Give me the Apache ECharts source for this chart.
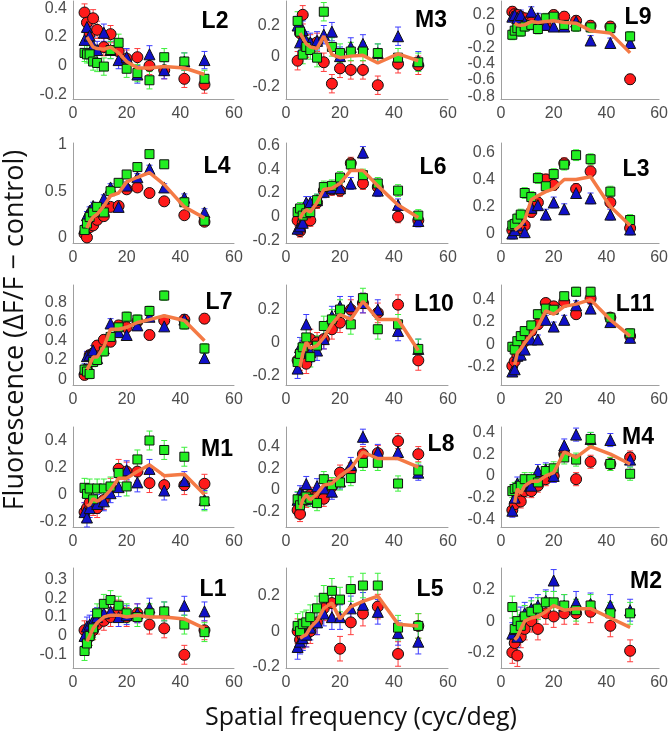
<!DOCTYPE html>
<html>
<head>
<meta charset="utf-8">
<script src="https://cdn.jsdelivr.net/npm/echarts@6/dist/echarts.min.js"></script>
<style>
html, body { margin: 0; padding: 0; background: #fff; }
#chart { width: 671px; height: 739px; }
</style>
</head>
<body>
<div id="chart"></div>
<script>
// spatial frequencies (cyc/deg), shared by every panel
const freq = [4.3, 5.2, 6.2, 7.5, 9, 11.5, 14, 17, 20, 24, 28.5, 34, 41.5, 49];

const panelNames = ['L2', 'M3', 'L9', 'L4', 'L6', 'L3', 'L7', 'L10', 'L11', 'M1', 'L8', 'M4', 'L1', 'L5', 'M2'];

// y limits and tick labels of each panel
const yLimits = [
  [-0.23, 0.45], [-0.28, 0.36], [-0.83, 0.36],
  [-0.06, 1.02], [-0.22, 0.62], [-0.07, 0.67],
  [-0.06, 0.98], [-0.26, 0.35], [-0.36, 0.53],
  [-0.24, 0.5], [-0.34, 0.58], [-0.47, 0.45],
  [-0.17, 0.36], [-0.21, 0.36], [-0.3, 0.34]
];
const yTicks = [
  [-0.2, 0, 0.2, 0.4], [-0.2, 0, 0.2], [-0.8, -0.6, -0.4, -0.2, 0, 0.2],
  [0, 0.5, 1], [-0.2, 0, 0.2, 0.4, 0.6], [0, 0.2, 0.4, 0.6],
  [0, 0.2, 0.4, 0.6, 0.8], [-0.2, 0, 0.2], [-0.2, 0, 0.2, 0.4],
  [-0.2, 0, 0.2, 0.4], [-0.2, 0, 0.2, 0.4], [-0.4, -0.2, 0, 0.2, 0.4],
  [-0.1, 0, 0.1, 0.2, 0.3], [-0.2, 0, 0.2], [-0.2, 0, 0.2]
];

// half length of the error bars, per panel
const errSize = [0.06, 0.06, 0.06, 0.04, 0.05, 0.04, 0.05, 0.06, 0.04, 0.07, 0.07, 0.06, 0.05, 0.07, 0.07];

// red circles
const redVals = [
  [0.37, 0.3, 0.22, 0.33, 0.25, 0.13, 0.22, 0.1, 0.05, 0.06, 0.0, -0.03, -0.09, -0.13],        // L2
  [-0.03, 0.15, 0.27, 0.05, 0.08, 0.09, -0.04, -0.18, -0.08, -0.09, -0.09, -0.19, -0.05, -0.06], // M3
  [0.23, 0.2, 0.19, 0.17, 0.15, 0.1, 0.08, 0.07, 0.19, 0.17, 0.12, 0.06, 0.05, -0.59],          // L9
  [0.04, 0.0, 0.11, 0.13, 0.19, 0.23, 0.33, 0.34, 0.52, 0.54, 0.48, 0.39, 0.24, 0.17],          // L4
  [-0.03, -0.12, -0.05, -0.03, -0.03, 0.12, 0.22, 0.23, 0.22, 0.45, 0.28, 0.25, 0.0, -0.03],    // L6
  [0.025, 0.05, 0.05, 0.04, 0.06, 0.16, 0.23, 0.4, 0.36, 0.52, 0.33, 0.46, 0.23, 0.04],         // L3
  [0.045, 0.1, 0.25, 0.27, 0.35, 0.41, 0.39, 0.56, 0.54, 0.6, 0.46, 0.61, 0.62, 0.63],          // L7
  [-0.11, -0.11, -0.05, -0.13, 0.02, 0.0, 0.02, 0.08, 0.12, 0.2, 0.24, 0.18, 0.23, -0.11],      // L10
  [-0.19, -0.15, -0.09, -0.03, 0.03, 0.12, 0.18, 0.37, 0.34, 0.38, 0.27, 0.41, 0.24, 0.075],    // L11
  [-0.13, -0.1, -0.06, -0.085, -0.1, -0.04, 0.05, 0.19, 0.17, 0.17, 0.085, 0.07, 0.07, 0.08],   // M1
  [-0.185, -0.22, -0.08, -0.09, -0.045, -0.055, -0.08, 0.03, 0.16, 0.18, 0.33, 0.34, 0.45, 0.33], // L8
  [-0.315, -0.26, -0.18, -0.235, -0.14, -0.14, -0.09, -0.03, 0.0, 0.2, -0.03, 0.13, 0.11, 0.17], // M4
  [0.03, -0.02, 0.0, 0.03, 0.06, 0.08, 0.1, 0.14, 0.1, 0.12, 0.06, 0.04, -0.1, 0.03],           // L1
  [0.0, -0.05, -0.03, -0.02, 0.0, 0.05, 0.13, 0.16, -0.1, 0.05, 0.1, 0.14, -0.13, 0.03],        // L5
  [-0.2, -0.14, -0.22, -0.1, -0.05, 0.0, -0.05, 0.05, 0.03, 0.05, 0.05, 0.06, -0.03, -0.19]     // M2
];

// blue triangles
const blueVals = [
  [0.18, 0.27, 0.21, 0.14, 0.11, 0.23, 0.11, 0.04, 0.06, -0.06, 0.08, -0.03, 0.03, 0.04],
  [0.2, 0.09, 0.17, 0.1, 0.09, 0.1, 0.14, 0.16, 0.0, 0.06, 0.08, 0.02, 0.13, -0.03],
  [0.17, 0.19, 0.15, 0.19, 0.1, 0.23, 0.15, 0.07, 0.05, 0.05, 0.11, -0.12, -0.15, -0.15],
  [0.1, 0.24, 0.29, 0.34, 0.31, 0.42, 0.54, 0.33, 0.56, 0.65, 0.74, 0.54, 0.43, 0.27],
  [-0.1, -0.08, -0.05, 0.12, 0.12, 0.14, 0.21, 0.24, 0.24, 0.28, 0.54, 0.22, 0.1, -0.035],
  [0.0, 0.025, 0.06, 0.1, 0.01, 0.19, 0.21, 0.14, 0.23, 0.18, 0.3, 0.26, 0.14, 0.03],
  [0.11, 0.24, 0.25, 0.3, 0.22, 0.32, 0.58, 0.49, 0.46, 0.56, 0.65, 0.55, 0.62, 0.22],
  [-0.16, -0.03, -0.05, 0.11, -0.06, -0.05, 0.02, 0.16, 0.22, 0.22, 0.24, 0.2, 0.07, -0.04],
  [-0.24, -0.22, -0.1, -0.09, -0.045, 0.045, 0.045, 0.22, 0.16, 0.22, 0.35, 0.32, 0.2, 0.06],
  [-0.13, -0.17, -0.1, -0.045, -0.07, -0.05, 0.01, 0.055, 0.18, 0.09, 0.19, 0.03, 0.1, -0.04],
  [-0.09, -0.03, -0.045, 0.055, -0.08, 0.035, 0.015, -0.015, 0.08, 0.23, 0.49, 0.35, 0.35, 0.16],
  [-0.32, -0.2, -0.07, -0.09, -0.06, -0.09, 0.045, 0.06, 0.0, 0.28, 0.38, 0.34, 0.33, 0.15],
  [0.0, 0.05, 0.06, 0.08, 0.1, 0.12, 0.13, 0.1, 0.11, 0.12, 0.15, 0.13, 0.16, 0.13],
  [-0.09, -0.06, -0.04, -0.02, 0.02, 0.05, 0.1, 0.08, 0.08, 0.13, 0.15, 0.11, -0.01, -0.06],
  [-0.08, -0.05, -0.1, 0.02, 0.05, 0.08, 0.1, 0.13, 0.26, 0.1, 0.12, 0.11, 0.1, 0.07]
];

// green squares
const greenVals = [
  [0.09, 0.08, 0.08, 0.03, 0.02, -0.005, 0.11, 0.16, -0.02, -0.05, -0.1, 0.06, 0.03, -0.09],
  [0.23, 0.16, 0.01, 0.06, 0.04, -0.01, 0.29, 0.06, 0.02, 0.03, 0.03, 0.02, -0.01, -0.04],
  [-0.05, 0.0, 0.03, -0.01, 0.05, 0.07, 0.02, 0.15, 0.17, 0.07, 0.05, 0.04, 0.03, -0.07],
  [0.08, 0.15, 0.22, 0.27, 0.33, 0.27, 0.5, 0.59, 0.68, 0.76, 0.9, 0.79, 0.38, 0.18],
  [0.04, 0.07, 0.01, 0.03, 0.04, 0.14, 0.25, 0.26, 0.33, 0.44, 0.35, 0.28, 0.22, 0.01],
  [0.06, 0.07, 0.11, 0.14, 0.3, 0.27, 0.41, 0.35, 0.44, 0.51, 0.58, 0.55, 0.31, 0.1],
  [0.1, 0.08, 0.055, 0.18, 0.2, 0.29, 0.44, 0.54, 0.65, 0.62, 0.71, 0.87, 0.57, 0.32],
  [-0.12, -0.07, -0.03, 0.03, -0.09, -0.02, 0.1, 0.14, 0.2, 0.11, 0.27, 0.08, 0.11, -0.04],
  [-0.02, -0.045, 0.03, 0.075, 0.12, 0.17, 0.27, 0.32, 0.31, 0.43, 0.47, 0.47, 0.24, 0.1],
  [0.05, 0.005, 0.045, -0.035, 0.045, 0.045, 0.06, 0.16, 0.06, 0.26, 0.4, 0.33, 0.28, -0.05],
  [-0.085, -0.14, -0.09, -0.06, -0.08, -0.12, 0.1, 0.045, 0.07, 0.11, 0.25, 0.25, 0.06, 0.18],
  [-0.14, -0.12, -0.11, -0.09, -0.03, -0.03, -0.06, 0.045, 0.07, 0.17, 0.15, 0.34, 0.11, 0.02],
  [-0.08, -0.04, 0.0, 0.04, 0.12, 0.17, 0.19, 0.16, 0.12, 0.1, 0.12, 0.13, 0.06, 0.02],
  [0.03, 0.0, 0.04, 0.05, 0.08, 0.13, 0.19, 0.23, 0.18, 0.24, 0.26, 0.26, 0.02, 0.03],
  [0.09, -0.05, 0.0, -0.03, 0.03, 0.06, 0.08, 0.12, 0.12, 0.1, 0.07, 0.1, 0.05, 0.05]
];

// orange mean curve (no value at the lowest frequency)
const meanVals = [
  [null, 0.2, 0.17, 0.13, 0.12, 0.115, 0.13, 0.09, 0.03, -0.015, -0.015, -0.005, -0.015, -0.06],
  [null, 0.15, 0.12, 0.08, 0.06, 0.05, 0.13, 0.01, -0.01, 0.0, 0.005, -0.045, 0.015, -0.03],
  [null, 0.09, 0.07, 0.065, 0.07, 0.11, 0.1, 0.11, 0.12, 0.1, 0.09, 0.0, -0.03, -0.27],
  [null, 0.1, 0.17, 0.22, 0.25, 0.34, 0.45, 0.48, 0.6, 0.65, 0.7, 0.57, 0.33, 0.21],
  [null, -0.015, 0.03, 0.06, 0.04, 0.12, 0.23, 0.24, 0.28, 0.39, 0.39, 0.26, 0.1, -0.005],
  [null, 0.025, 0.04, 0.06, 0.1, 0.25, 0.28, 0.31, 0.33, 0.4, 0.4, 0.42, 0.2, 0.06],
  [null, 0.1, 0.15, 0.23, 0.23, 0.34, 0.52, 0.52, 0.54, 0.59, 0.62, 0.66, 0.61, 0.4],
  [null, -0.15, -0.07, 0.0, -0.035, -0.02, 0.03, 0.11, 0.17, 0.14, 0.25, 0.14, 0.14, -0.05],
  [null, -0.18, -0.075, -0.04, 0.015, 0.09, 0.16, 0.3, 0.27, 0.34, 0.36, 0.4, 0.22, 0.075],
  [null, -0.085, -0.075, -0.03, -0.05, -0.02, 0.035, 0.12, 0.12, 0.17, 0.22, 0.14, 0.15, 0.0],
  [null, -0.17, -0.09, -0.045, -0.09, -0.035, 0.045, 0.06, 0.13, 0.2, 0.35, 0.29, 0.29, 0.21],
  [null, -0.245, -0.12, -0.16, -0.09, -0.05, -0.05, 0.0, 0.03, 0.22, 0.17, 0.27, 0.2, 0.11],
  [null, -0.03, 0.0, 0.04, 0.07, 0.1, 0.11, 0.11, 0.1, 0.11, 0.1, 0.1, 0.09, 0.04],
  [null, -0.04, -0.03, -0.02, 0.02, 0.06, 0.13, 0.16, 0.07, 0.14, 0.17, 0.2, 0.04, 0.03],
  [null, -0.12, -0.1, -0.05, 0.0, 0.02, 0.03, 0.06, 0.1, 0.07, 0.08, 0.08, 0.02, -0.04]
];

// layout (pixels)
const colLeft = [73, 286, 501];
const colRight = [234, 448, 664];
const rowTop = [1, 143, 285, 427, 568];
const rowBottom = [99, 243, 385, 527, 668];
const labelPos = [
  [215, 22], [431, 21], [638, 18],
  [217, 167], [433, 168], [636, 170],
  [219, 303], [434, 305], [635, 305],
  [217, 450], [441, 445], [638, 438],
  [213, 590], [430, 590], [646, 582]
];

const tickFont = 'Liberation Sans';
const chart = echarts.init(document.getElementById('chart'));

function errorBars(i, vals, color) {
  return {
    type: 'custom',
    xAxisIndex: i,
    yAxisIndex: i,
    silent: true,
    z: 2,
    encode: { x: 0, y: 1 },
    data: freq.map((f, k) => [f, vals[k], errSize[i]]),
    renderItem: function (params, api) {
      const x = api.value(0), y = api.value(1), e = api.value(2);
      const a = api.coord([x, y + e]);
      const b = api.coord([x, y - e]);
      const hw = 3;
      const st = { stroke: color, lineWidth: 1 };
      return {
        type: 'group',
        children: [
          { type: 'line', shape: { x1: a[0], y1: a[1], x2: b[0], y2: b[1] }, style: st },
          { type: 'line', shape: { x1: a[0] - hw, y1: a[1], x2: a[0] + hw, y2: a[1] }, style: st },
          { type: 'line', shape: { x1: b[0] - hw, y1: b[1], x2: b[0] + hw, y2: b[1] }, style: st }
        ]
      };
    }
  };
}

function markers(i, vals, symbol, size, color) {
  return {
    type: 'scatter',
    xAxisIndex: i,
    yAxisIndex: i,
    symbol: symbol,
    symbolSize: size,
    z: 3,
    itemStyle: { color: color, borderColor: '#111', borderWidth: 1, opacity: 1 },
    data: freq.map((f, k) => [f, vals[k]])
  };
}

const grids = [], xAxes = [], yAxes = [], series = [], graphics = [];

panelNames.forEach(function (name, i) {
  const r = Math.floor(i / 3), c = i % 3;
  grids.push({
    left: colLeft[c],
    width: colRight[c] - colLeft[c],
    top: rowTop[r],
    height: rowBottom[r] - rowTop[r]
  });
  xAxes.push({
    gridIndex: i,
    type: 'value',
    min: 0,
    max: 60,
    interval: 20,
    axisLine: { show: true, onZero: false, lineStyle: { color: '#a0a0a0', width: 1 } },
    axisTick: { show: false },
    splitLine: { show: false },
    axisLabel: { color: '#4d4d4d', fontSize: 16, fontFamily: tickFont, margin: 7 }
  });
  yAxes.push({
    gridIndex: i,
    type: 'value',
    min: yLimits[i][0],
    max: yLimits[i][1],
    axisLine: { show: true, onZero: false, lineStyle: { color: '#a0a0a0', width: 1 } },
    axisTick: { show: false },
    splitLine: { show: false },
    axisLabel: {
      customValues: yTicks[i],
      color: '#4d4d4d',
      fontSize: 16,
      fontFamily: tickFont,
      margin: 6,
      formatter: v => String(Math.round(v * 100) / 100)
    }
  });

  series.push(errorBars(i, redVals[i], '#ff3c3c'));
  series.push(errorBars(i, blueVals[i], '#3c3cff'));
  series.push(errorBars(i, greenVals[i], '#3cf03c'));
  series.push(markers(i, redVals[i], 'circle', 11, '#ff1a1a'));
  series.push(markers(i, blueVals[i], 'triangle', 11, '#1010c8'));
  series.push(markers(i, greenVals[i], 'rect', 9, '#22ee22'));
  series.push({
    type: 'line',
    xAxisIndex: i,
    yAxisIndex: i,
    z: 4,
    symbol: 'none',
    lineStyle: { color: '#f47a45', width: 3.5 },
    data: freq.map((f, k) => [f, meanVals[i][k]]).filter(p => p[1] !== null)
  });

  graphics.push({
    type: 'text',
    x: labelPos[i][0],
    y: labelPos[i][1],
    style: {
      text: name,
      font: 'bold 23px "Liberation Sans"',
      fill: '#000',
      textAlign: 'center',
      textVerticalAlign: 'middle'
    }
  });
});

graphics.push({
  type: 'text',
  x: 15,
  y: 330,
  rotation: Math.PI / 2,
  style: {
    text: 'Fluorescence (ΔF/F − control)',
    font: '27px "Open Sans"',
    fill: '#111',
    textAlign: 'center',
    textVerticalAlign: 'middle'
  }
});
graphics.push({
  type: 'text',
  x: 361,
  y: 718,
  style: {
    text: 'Spatial frequency (cyc/deg)',
    font: '25px "Open Sans"',
    fill: '#111',
    textAlign: 'center',
    textVerticalAlign: 'middle'
  }
});

chart.setOption({
  animation: false,
  backgroundColor: '#fff',
  grid: grids,
  xAxis: xAxes,
  yAxis: yAxes,
  series: series,
  graphic: graphics
});
</script>
</body>
</html>
